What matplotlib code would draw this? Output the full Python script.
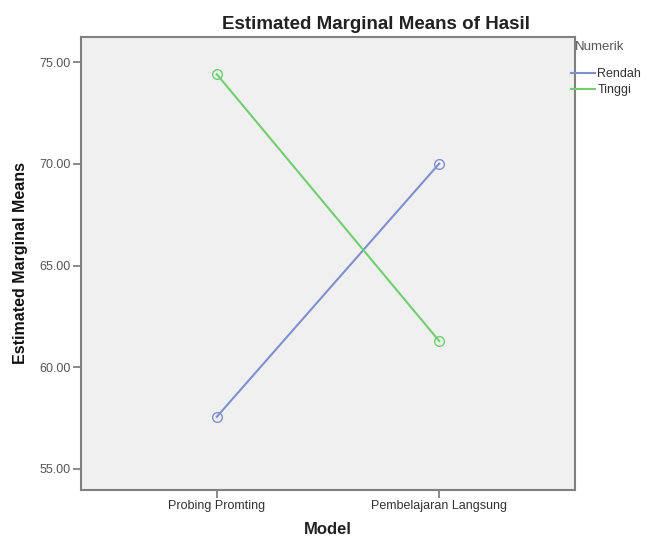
import matplotlib
matplotlib.use("Agg")
import matplotlib.pyplot as plt

plt.rcParams['font.family'] = ['Liberation Sans', 'DejaVu Sans']

categories = ["Probing Promting", "Pembelajaran Langsung"]
series_names = ["Rendah", "Tinggi"]
rendah = [57.55, 70.02]
tinggi = [74.42, 61.28]
yticks = [55.0, 60.0, 65.0, 70.0, 75.0]
colors = {"Rendah": "#7f8fd0", "Tinggi": "#6fcf6f"}

W, H = 647, 537
fig = plt.figure(figsize=(W / 100, H / 100), dpi=100)
ax = fig.add_axes([81 / W, 1 - 490 / H, (575 - 81) / W, (490 - 37) / H])
ax.set_facecolor("#f0f0f0")

x = list(range(len(categories)))
for name, vals in zip(series_names, [rendah, tinggi]):
    ax.plot(x, vals, color=colors[name], lw=1.5, marker='o', ms=7,
            mfc='none', mec=colors[name], mew=1.0, label=name)

ax.set_xlim(-0.61, 1.61)
ax.set_ylim(53.95, 76.25)
ax.set_xticks(x)
ax.set_xticklabels(categories, fontsize=9, color="#333333")
ax.set_yticks(yticks)
ax.set_yticklabels([f"{v:.2f}" for v in yticks], fontsize=9, color="#555555")
ax.tick_params(axis='both', length=6, width=1.2, color="#777777", pad=1.5)

for s in ax.spines.values():
    s.set_color("#808080")
    s.set_linewidth(1.5)

ax.set_title("Estimated Marginal Means of Hasil", fontsize=13.5, fontweight='bold', pad=6,
             color="#222222", x=(376 - 81) / (575 - 81))
ax.set_xlabel("Model", fontsize=12, fontweight='bold', labelpad=7, color="#222222")
ax.set_ylabel("Estimated Marginal Means", fontsize=11.5, fontweight='bold', labelpad=8, color="#111111")

fig.text(575 / W, 1 - 47 / H, "Numerik", fontsize=9.5, color="#555555", ha='left', va='center')
leg = fig.legend(handles=ax.get_lines(), labels=series_names, loc='upper left',
                 bbox_to_anchor=(571 / W, 1 - 68 / H), bbox_transform=fig.transFigure,
                 frameon=False, fontsize=9, handlelength=1.9,
                 handletextpad=0.2, labelspacing=0.35, borderaxespad=0.0, borderpad=0.0)
for line in leg.get_lines():
    line.set_marker('')
for t in leg.get_texts():
    t.set_color("#333333")

fig.savefig("out.png", dpi=100)
